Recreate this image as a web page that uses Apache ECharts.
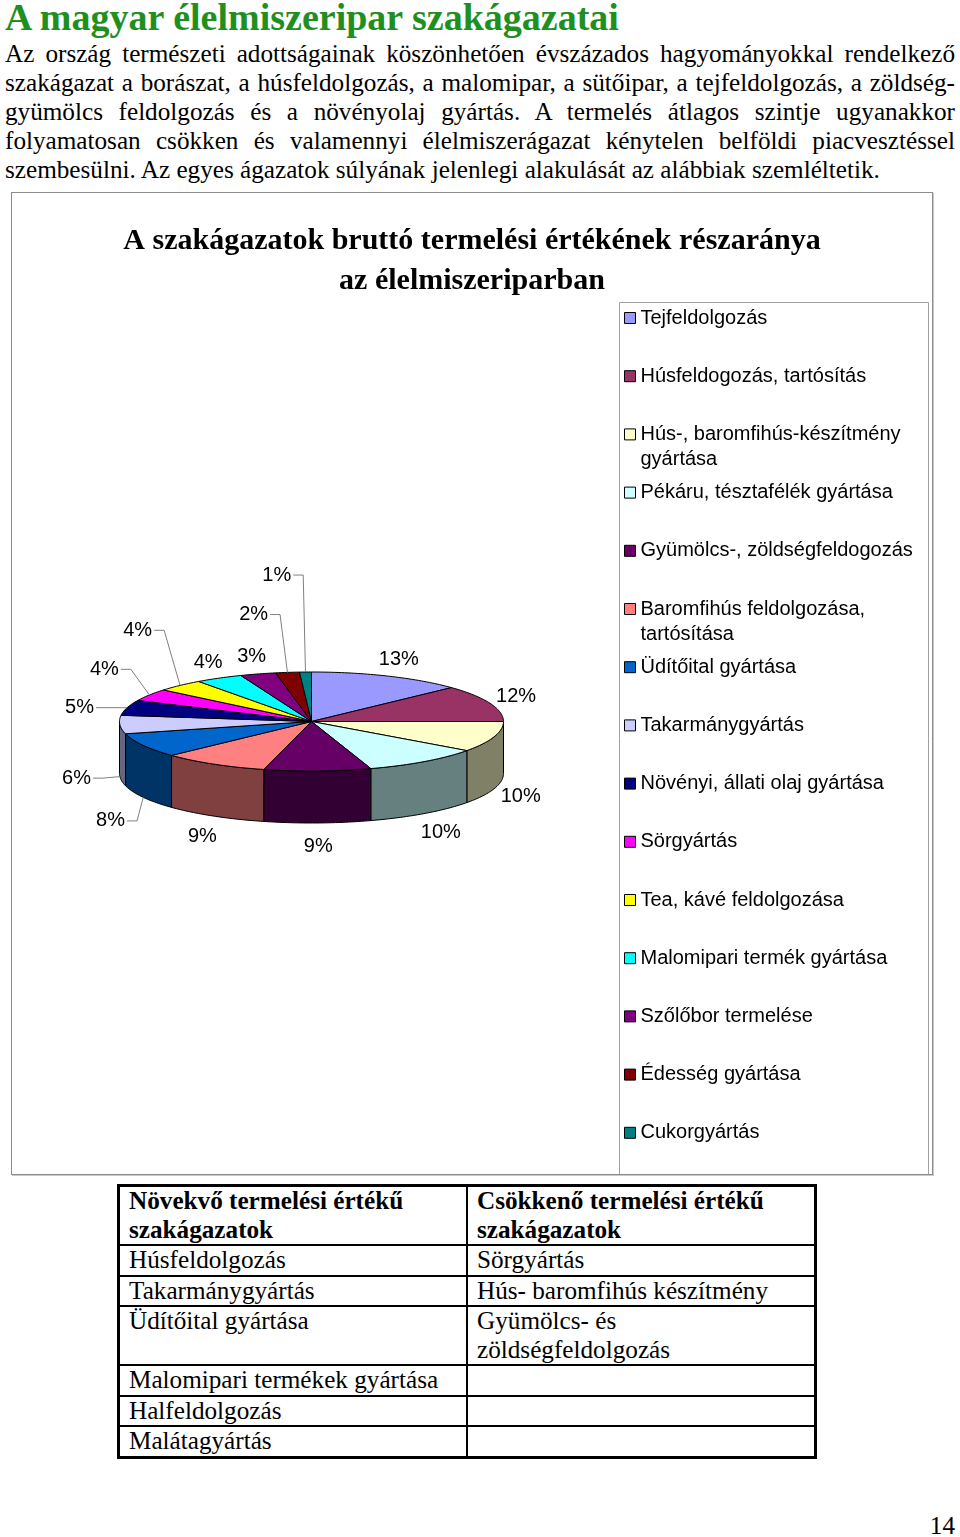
<!DOCTYPE html>
<html lang="hu">
<head>
<meta charset="utf-8">
<title>A magyar élelmiszeripar szakágazatai</title>
<script src="https://cdn.jsdelivr.net/npm/echarts@6.0.0/dist/echarts.min.js"></script>
<style>
  html, body { margin: 0; padding: 0; background: #fff; }
  .page {
    position: relative;
    width: 960px;
    height: 1537px;
    overflow: hidden;
    font-family: 'Liberation Serif', 'Times New Roman', serif;
    color: #000;
  }
  .heading {
    position: absolute; left: 5px; top: -4px; margin: 0;
    font-size: 38px; line-height: 42px; font-weight: bold; color: #1f8f1f;
    white-space: nowrap;
  }
  .intro { position: absolute; left: 5px; top: 38.5px; width: 950px; font-size: 25.2px; line-height: 29px; }
  .intro .line { height: 29px; text-align: justify; text-align-last: justify; }
  .intro .line.last { text-align-last: left; }
  .chart-frame {
    position: absolute; left: 11px; top: 192px; width: 920px; height: 981px;
    border: 1px solid #8c8c8c; box-shadow: 1px 1px 0 #c8c8c8;
  }
  #chart { width: 920px; height: 981px; }
  table.branches {
    position: absolute; left: 117px; top: 1184px; width: 700px;
    border-collapse: collapse; border: 3px solid #000;
    font-size: 25.2px; line-height: 28.5px;
  }
  table.branches td {
    width: 50%; border: 2px solid #000; padding: 0 0 0 9px; vertical-align: top;
  }
  table.branches th {
    width: 50%; border: 2px solid #000; padding: 0 0 0 9px; text-align: left; vertical-align: top;
  }
  .page-number { position: absolute; right: 5px; top: 1511px; font-size: 25.2px; line-height: 29px; }
</style>
</head>
<body>
<div class="page">
  <h1 class="heading">A magyar élelmiszeripar szakágazatai</h1>
  <div class="intro">
    <div class="line">Az ország természeti adottságainak köszönhetően évszázados hagyományokkal rendelkező</div>
    <div class="line">szakágazat a borászat, a húsfeldolgozás, a malomipar, a sütőipar, a tejfeldolgozás, a zöldség-</div>
    <div class="line">gyümölcs feldolgozás és a növényolaj gyártás. A termelés átlagos szintje ugyanakkor</div>
    <div class="line">folyamatosan csökken és valamennyi élelmiszerágazat kénytelen belföldi piacvesztéssel</div>
    <div class="line last">szembesülni. Az egyes ágazatok súlyának jelenlegi alakulását az alábbiak szemléltetik.</div>
  </div>

  <div class="chart-frame"><div id="chart"></div></div>

  <table class="branches">
    <tr><th>Növekvő termelési értékű szakágazatok</th><th>Csökkenő termelési értékű szakágazatok</th></tr>
    <tr><td>Húsfeldolgozás</td><td>Sörgyártás</td></tr>
    <tr><td>Takarmánygyártás</td><td>Hús- baromfihús készítmény</td></tr>
    <tr><td>Üdítőital gyártása</td><td>Gyümölcs- és<br>zöldségfeldolgozás</td></tr>
    <tr><td>Malomipari termékek gyártása</td><td></td></tr>
    <tr><td>Halfeldolgozás</td><td></td></tr>
    <tr><td>Malátagyártás</td><td></td></tr>
  </table>

  <div class="page-number">14</div>
</div>

<script>
// szakágazatok és részarányuk (%)
const categories = [
  'Tejfeldolgozás',
  'Húsfeldogozás, tartósítás',
  'Hús-, baromfihús-készítmény gyártása',
  'Pékáru, tésztafélék gyártása',
  'Gyümölcs-, zöldségfeldogozás',
  'Baromfihús feldolgozása, tartósítása',
  'Üdítőital gyártása',
  'Takarmánygyártás',
  'Növényi, állati olaj gyártása',
  'Sörgyártás',
  'Tea, kávé feldolgozása',
  'Malomipari termék gyártása',
  'Szőlőbor termelése',
  'Édesség gyártása',
  'Cukorgyártás'
]
const shares = [13, 12, 10, 10, 9, 9, 8, 6, 5, 4, 4, 4, 3, 2, 1]
const colors = [
  '#9999FF', '#993366', '#FFFFCC', '#CCFFFF', '#660066',
  '#FF8080', '#0066CC', '#CCCCFF', '#000080', '#FF00FF',
  '#FFFF00', '#00FFFF', '#800080', '#800000', '#008080'
]
const chartTitle = 'A szakágazatok bruttó termelési értékének részaránya\naz élelmiszeriparban'

// kézzel elhúzott címkék (vezetővonallal), eltolás a szelet melletti helyhez képest
const movedLabels = {
  6: [-13, 12], 7: [-21, 0], 8: [-26, 5], 9: [-26, -16],
  10: [-27, -42], 13: [-31, -40], 14: [-28, -79]
}

// a "3D" torta helye és mérete a rajzon
const pie = { cx: 299.5, cy: 528.5, rx: 192, ry: 49.5, depth: 52 }
const labelFont = '20px "Liberation Sans", Arial, sans-serif'
const legendLine = 25

const total = shares.reduce((a, b) => a + b, 0)
const startOf = shares.map((v, i) => shares.slice(0, i).reduce((a, b) => a + b, 0))
const rad = Math.PI / 180

const point = (deg, drop = 0) => [
  pie.cx + pie.rx * Math.sin(deg * rad),
  pie.cy - pie.ry * Math.cos(deg * rad) + drop
]
const arc = (from, to, drop = 0) => {
  const n = Math.max(2, Math.ceil(to - from))
  const pts = []
  for (let k = 0; k <= n; k++) pts.push(point(from + (to - from) * k / n, drop))
  return pts
}
// oldallap: a szín fele
const darken = hex => {
  const n = parseInt(hex.slice(1), 16)
  return 'rgb(' + [(n >> 16) & 255, (n >> 8) & 255, n & 255].map(c => Math.round(c / 2)).join(',') + ')'
}
const measureCtx = document.createElement('canvas').getContext('2d')
const textWidth = (text, font) => {
  measureCtx.font = font
  return measureCtx.measureText(text).width
}
// hosszú jelmagyarázat-szöveg tördelése
const wrapName = name => {
  if (name.length <= 30) return name
  const cut = name.lastIndexOf(' ')
  return name.slice(0, cut) + '\n' + name.slice(cut + 1)
}
// kétsoros tételnél üres első sor, így az ikon az első szövegsorhoz igazodik
const legendText = name => {
  const wrapped = wrapName(name)
  return wrapped.includes('\n') ? '\u00a0\n' + wrapped : wrapped
}

// egy szelet: oldallap + fedlap + címke
const renderSlice = i => (params, api) => {
  const value = api.value(0)
  const from = startOf[i] / total * 360
  const to = from + value / total * 360
  const color = colors[i]
  const children = []

  const sideFrom = Math.max(from, 90)
  const sideTo = Math.min(to, 270)
  if (sideTo > sideFrom) {
    const top = arc(sideFrom, sideTo)
    const bottom = arc(sideFrom, sideTo, pie.depth).reverse()
    children.push({
      type: 'polygon',
      z2: 1,
      shape: { points: top.concat(bottom) },
      style: { fill: darken(color), stroke: '#000', lineWidth: 1, lineJoin: 'round' }
    })
  }

  children.push({
    type: 'polygon',
    z2: 2,
    shape: { points: [[pie.cx, pie.cy]].concat(arc(from, to)) },
    style: { fill: color, stroke: '#000', lineWidth: 1, lineJoin: 'round' }
  })

  const text = Math.round(value / total * 100) + '%'
  const mid = (from + to) / 2
  const s = Math.sin(mid * rad)
  const c = Math.cos(mid * rad)
  const front = c < 0
  const anchor = point(mid, front ? pie.depth : 0)
  const hw = textWidth(text, labelFont) / 2
  const move = movedLabels[i] || [0, 0]
  const x = anchor[0] + s * (8 + hw) + move[0]
  const y = anchor[1] - c * (front ? 24 : 18) + move[1]

  children.push({
    type: 'text',
    z2: 4,
    x,
    y,
    style: { text, font: labelFont, fill: '#000', align: 'center', verticalAlign: 'middle' }
  })

  if (movedLabels[i]) {
    const startX = x + hw + 2
    const elbowX = Math.min(anchor[0], startX + 10)
    children.push({
      type: 'polyline',
      z2: 3,
      shape: { points: [[startX, y], [elbowX, y], anchor] },
      style: { stroke: '#808080', lineWidth: 1, fill: null }
    })
  }

  return { type: 'group', children }
}

const chartInstance = echarts.init(document.getElementById('chart'), null, { renderer: 'canvas' })

// jelmagyarázat: tételenként külön, hogy a kétsoros tételek is egyenletes távolságra legyenek
const legends = categories.map((name, i) => {
  const twoLines = wrapName(name).includes('\n')
  return {
    orient: 'vertical',
    left: 612,
    top: 125 + i * 58.2 - (twoLines ? 1.5 : 0.5) * legendLine,
    padding: 0,
    itemWidth: 11,
    itemHeight: 11,
    icon: 'rect',
    selectedMode: false,
    itemStyle: { borderColor: '#000', borderWidth: 1 },
    formatter: legendText,
    textStyle: {
      fontFamily: '"Liberation Sans", Arial, sans-serif',
      fontSize: 20,
      color: '#000',
      lineHeight: legendLine
    },
    data: [name]
  }
})

const option = {
  animation: false,
  backgroundColor: '#fff',
  title: {
    text: chartTitle,
    left: 'center',
    top: 28,
    padding: 0,
    textStyle: {
      fontFamily: '"Liberation Serif", "Times New Roman", serif',
      fontSize: 30,
      fontWeight: 'bold',
      color: '#000',
      lineHeight: 40
    }
  },
  legend: legends,
  graphic: [
    {
      type: 'rect',
      left: 605,
      top: 107,
      shape: { width: 309, height: 872 },
      style: { fill: 'none', stroke: '#a0a0a0', lineWidth: 1 },
      silent: true
    }
  ],
  series: categories.map((name, i) => ({
    type: 'custom',
    name,
    coordinateSystem: 'none',
    silent: true,
    itemStyle: { color: colors[i] },
    data: [[shares[i]]],
    renderItem: renderSlice(i)
  }))
}

chartInstance.setOption(option)

window.addEventListener('resize', () => {
  chartInstance.resize()
})
</script>
</body>
</html>
